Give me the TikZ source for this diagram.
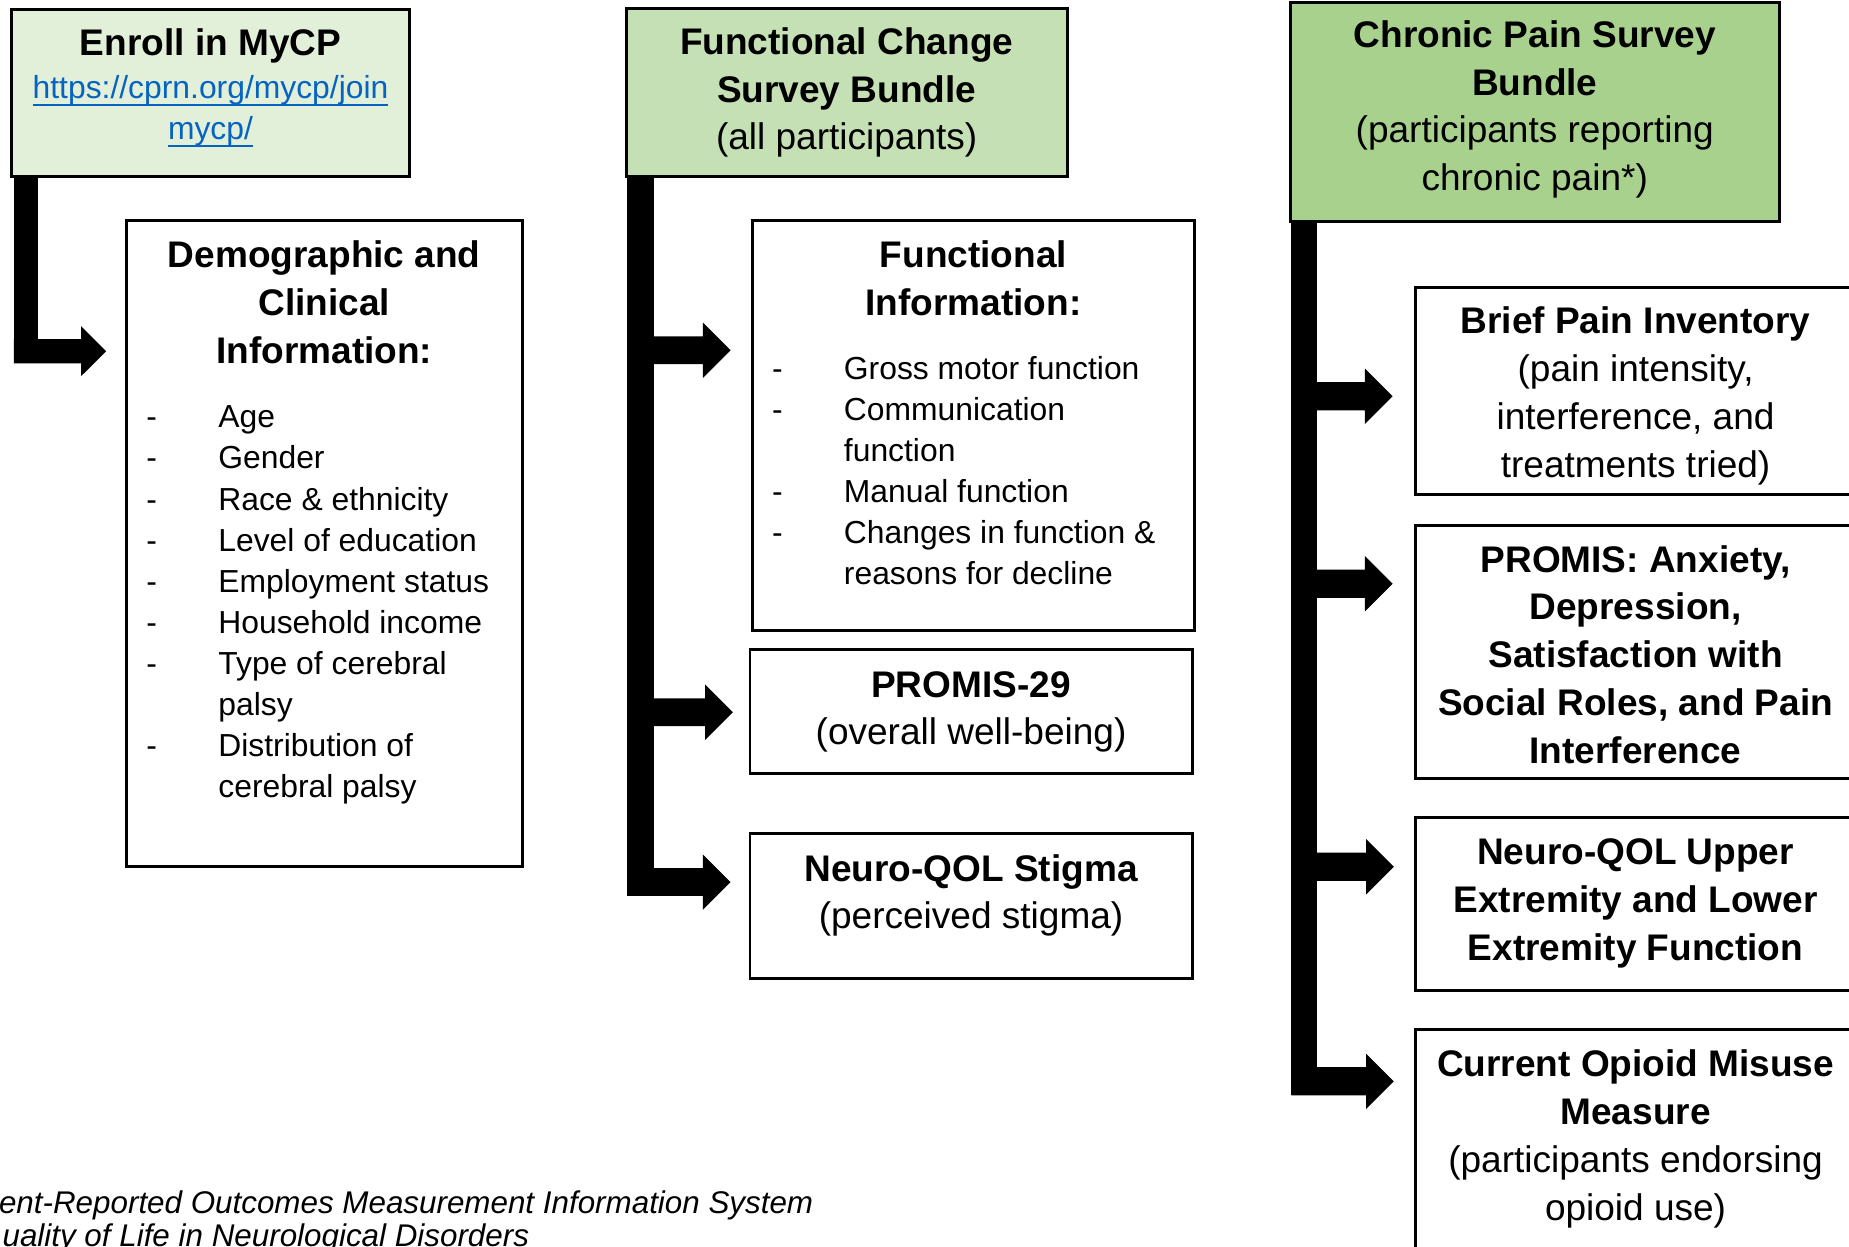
\documentclass[tikz,border=0pt]{standalone}
\usepackage{fontspec}
\setmainfont{Liberation Sans}
\usetikzlibrary{calc}
\definecolor{gA}{HTML}{E2F0D9}
\definecolor{gB}{HTML}{C5E0B4}
\definecolor{gC}{HTML}{A9D18E}
\definecolor{linkblue}{HTML}{0563C1}
\newcommand{\bigf}{\fontsize{31.4}{40.5}\selectfont}
\newcommand{\smf}{\fontsize{27}{34.8}\selectfont}
\newcommand{\footf}{\fontsize{26.6}{28}\selectfont\itshape}
\newcommand{\itm}[1]{\strut\makebox[61pt][l]{-}#1}
\newcommand{\cnt}[1]{\strut\hspace*{61pt}#1}
\newcommand{\ulink}[1]{\leavevmode\setbox0\hbox{#1}\rlap{\rule[-5.85pt]{\wd0}{1.7pt}}\box0}
\newcommand{\blockarrow}[5]{%
  \fill[blk] let \p1=(#1), \p2=(#2) in
    (\x2,{\y1+#3}) -- ({\x1-#5},{\y1+#3}) -- ({\x1-#5},{\y1+#4}) -- (\x1,\y1)
    -- ({\x1-#5},{\y1-#4}) -- ({\x1-#5},{\y1-#3}) -- (\x2,{\y1-#3}) -- cycle;}
\begin{document}
\begin{tikzpicture}[x=1pt,y=-1pt,
  panel/.style={draw=black, line width=2.5pt, rectangle, anchor=north west, outer sep=0pt, inner sep=0pt},
  txt/.style={inner sep=0pt, align=center, anchor=north, font=\bigf},
  lst/.style={inner sep=0pt, align=left, anchor=north west, font=\smf},
  blk/.style={fill=black}]
\useasboundingbox (0,0) rectangle (1568,1057);
\clip (0,0) rectangle (1568,1057);
\fill[white] (0,0) rectangle (1568,1057);

% ---------- boxes ----------
\node[panel, fill=gA, minimum width=337pt, minimum height=142pt] (enroll) at (10,8) {};
\node[panel, minimum width=336pt, minimum height=548pt] (demo) at (107,187) {};
\node[panel, fill=gB, minimum width=374pt, minimum height=143pt] (fcs) at (531,7) {};
\node[panel, minimum width=375pt, minimum height=348pt] (finfo) at (638,187) {};
\node[panel, minimum width=375pt, minimum height=105pt] (p29) at (636,551) {};
\node[panel, minimum width=375pt, minimum height=123pt] (nqs) at (636,707) {};
\node[panel, fill=gC, minimum width=415pt, minimum height=186pt] (cps) at (1094,2) {};
\node[panel, minimum width=374pt, minimum height=175pt] (bpi) at (1200,244) {};
\node[panel, minimum width=374pt, minimum height=214pt] (pan) at (1200,446) {};
\node[panel, minimum width=374pt, minimum height=147pt] (nqu) at (1200,693) {};
\node[panel, minimum width=374pt, minimum height=197pt] (com) at (1200,873) {};

% ---------- texts ----------
\node[txt] (enroll-t) at ($(enroll.north)+(0,10.65)$) {\bfseries\strut Enroll in MyCP};
\node[txt, font=\smf, text=linkblue] (enroll-u) at ($(enroll.north)+(0,51.34)$)
  {\strut\ulink{https://cprn.org/mycp/join}\\\strut\ulink{mycp/}};
\node[txt] (demo-t) at ($(demo.north)+(0,11.65)$)
  {\bfseries\strut Demographic and\\\bfseries\strut Clinical\\\bfseries\strut Information:};
\node[lst] (demo-l) at (124,338.34)
  {\itm{Age}\\\itm{Gender}\\\itm{Race \& ethnicity}\\\itm{Level of education}\\
   \itm{Employment status}\\\itm{Household income}\\\itm{Type of cerebral}\\
   \cnt{palsy}\\\itm{Distribution of}\\\cnt{cerebral palsy}};
\node[txt] (fcs-t) at ($(fcs.north)+(0,10.65)$)
  {\bfseries\strut Functional Change\\\bfseries\strut Survey Bundle\\\strut(all participants)};
\node[txt] (finfo-t) at ($(finfo.north)+(0,11.65)$)
  {\bfseries\strut Functional\\\bfseries\strut Information:};
\node[lst] (finfo-l) at (654.5,297.34)
  {\itm{Gross motor function}\\\itm{Communication}\\\cnt{function}\\
   \itm{Manual function}\\\itm{Changes in function \&}\\\cnt{reasons for decline}};
\node[txt] (p29-t) at ($(p29.north)+(0,11.65)$)
  {\bfseries\strut PROMIS-29\\\strut(overall well-being)};
\node[txt] (nqs-t) at ($(nqs.north)+(0,11.65)$)
  {\bfseries\strut Neuro-QOL Stigma\\\strut(perceived stigma)};
\node[txt] (cps-t) at ($(cps.north)+(0,9.65)$)
  {\bfseries\strut Chronic Pain Survey\\\bfseries\strut Bundle\\\strut(participants reporting\\\strut chronic pain*)};
\node[txt] (bpi-t) at ($(bpi.north)+(0,10.65)$)
  {\bfseries\strut Brief Pain Inventory\\\strut(pain intensity,\\\strut interference, and\\\strut treatments tried)};
\node[txt] (pan-t) at ($(pan.north)+(0,10.65)$)
  {\bfseries\strut PROMIS: Anxiety,\\\bfseries\strut Depression,\\\bfseries\strut Satisfaction with\\\bfseries\strut Social Roles, and Pain\\\bfseries\strut Interference};
\node[txt] (nqu-t) at ($(nqu.north)+(0,11.65)$)
  {\bfseries\strut Neuro-QOL Upper\\\bfseries\strut Extremity and Lower\\\bfseries\strut Extremity Function};
\node[txt] (com-t) at ($(com.north)+(0,11.65)$)
  {\bfseries\strut Current Opioid Misuse\\\bfseries\strut Measure\\\strut(participants endorsing\\\strut opioid use)};
\node[inner sep=0pt, align=left, anchor=north west, font=\footf] (foot) at (-1,1008.9)
  {\strut ent-Reported Outcomes Measurement Information System\\\strut\hspace*{3pt}uality of Life in Neurological Disorders};

% ---------- block arrows ----------
\coordinate (barA) at ($(enroll.south west)+(1.7,0)$);
\coordinate (barB) at ($(fcs.south west)+(1,0)$);
\coordinate (barC) at ($(cps.south west)+(1,0)$);
\coordinate (tA)  at ($(demo.north west)+(-17,110.8)$);
\coordinate (tB1) at ($(finfo.north west)+(-18.5,110)$);
\coordinate (tB2) at ($(p29.north west)+(-14.5,53)$);
\coordinate (tB3) at ($(nqs.north west)+(-16.5,41)$);
\coordinate (tC1) at ($(bpi.north west)+(-19,92)$);
\coordinate (tC2) at ($(pan.north west)+(-19,49)$);
\coordinate (tC3) at ($(nqu.north west)+(-18,42)$);
\coordinate (tC4) at ($(com.north west)+(-18,44)$);

\fill[blk] (barA) rectangle ++(20.8,158);
\blockarrow{tA}{barA}{10.25pt}{21.25pt}{21.3pt}
\fill[blk] (barB) rectangle ++(23,610);
\blockarrow{tB1}{barB}{11.75pt}{23.5pt}{23.5pt}
\blockarrow{tB2}{barB}{11.75pt}{23.5pt}{23.5pt}
\blockarrow{tB3}{barB}{11.75pt}{23.5pt}{23.5pt}
\fill[blk] (barC) rectangle ++(22,740.5);
\blockarrow{tC1}{barC}{12pt}{23.5pt}{23.5pt}
\blockarrow{tC2}{barC}{12pt}{23.5pt}{23.5pt}
\blockarrow{tC3}{barC}{12pt}{23.5pt}{23.5pt}
\blockarrow{tC4}{barC}{12pt}{23.5pt}{23.5pt}
\end{tikzpicture}
\end{document}
